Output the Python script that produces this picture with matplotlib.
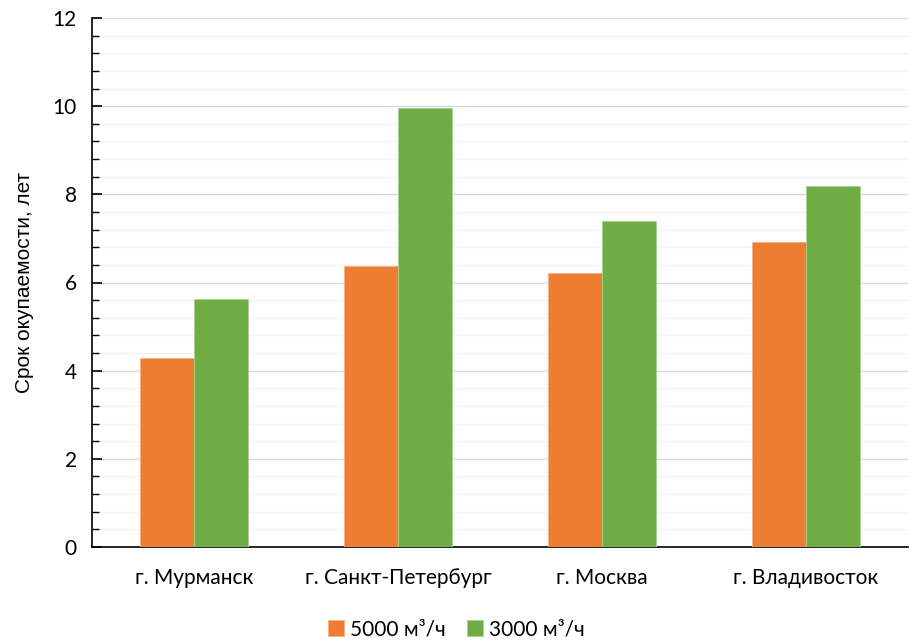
import matplotlib
matplotlib.use("Agg")
import matplotlib.pyplot as plt
import numpy as np
from matplotlib.ticker import MultipleLocator

categories = ["г. Мурманск", "г. Санкт-Петербург", "г. Москва", "г. Владивосток"]
series_names = ["5000 м³/ч", "3000 м³/ч"]
values_5000 = [4.28, 6.38, 6.21, 6.92]
values_3000 = [5.62, 9.96, 7.40, 8.20]
colors = ["#ED7D31", "#70AD47"]

plt.rcParams['font.family'] = ['Lato', 'DejaVu Sans']

fig = plt.figure(figsize=(9.13, 6.42), dpi=100)
ax = fig.add_axes([92/913, 95/642, 816/913, 529/642])

x = np.arange(len(categories))
w = 0.265
ax.bar(x - w/2, values_5000, w, color=colors[0], edgecolor="#f4b183", linewidth=0.6, label=series_names[0], zorder=3)
ax.bar(x + w/2, values_3000, w, color=colors[1], edgecolor="#a9d18e", linewidth=0.6, label=series_names[1], zorder=3)

ax.set_xlim(-0.5, len(categories) - 0.5)
ax.set_ylim(0, 12)
ax.yaxis.set_major_locator(MultipleLocator(2))
ax.yaxis.set_minor_locator(MultipleLocator(0.4))
ax.grid(which="major", axis="y", color="#d9d9d9", linewidth=1.0, zorder=0)
ax.grid(which="minor", axis="y", color="#f2f2f2", linewidth=1.0, zorder=0)
ax.set_axisbelow(True)

for s in ["top", "right"]:
    ax.spines[s].set_visible(False)
ax.spines["left"].set_color("black")
ax.spines["bottom"].set_color("black")
ax.spines["left"].set_linewidth(1.2)
ax.spines["bottom"].set_linewidth(1.2)

ax.set_xticks(x)
ax.set_xticklabels(categories, fontsize=15)
ax.tick_params(axis="x", length=0, pad=15)
ax.tick_params(axis="y", which="major", direction="in", length=7, width=1.2, labelsize=15, pad=11)
ax.tick_params(axis="y", which="minor", direction="in", length=5, width=1.0)

ax.set_ylabel("Срок окупаемости, лет", fontsize=15, labelpad=13,
              family=['Liberation Sans', 'DejaVu Sans'])

fig.legend(loc="lower center", bbox_to_anchor=(0.5, -0.025), ncol=2, frameon=False,
           fontsize=15, handlelength=0.75, handleheight=0.75, handletextpad=0.3, columnspacing=1.0)

fig.savefig("out.png", dpi=100)
